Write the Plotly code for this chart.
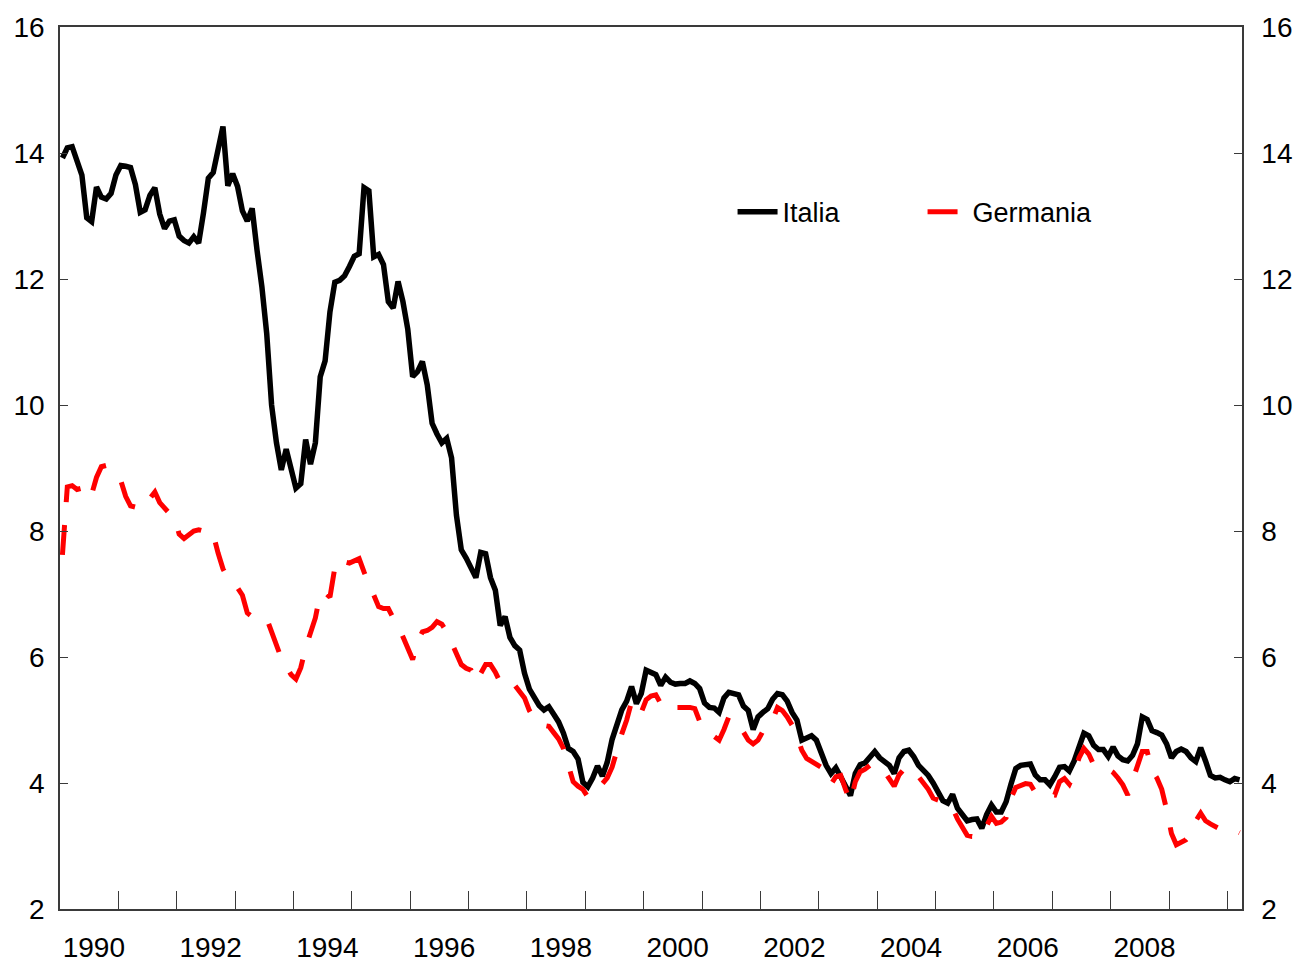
import pandas as pd
import plotly.graph_objects as go

# Monthly data, Jan 1990 - Mar 2010 (long-term government bond yields, %)
months = pd.period_range("1990-01", "2010-03", freq="M")

italia = [
    13.92, 14.08, 14.10, 13.87, 13.65, 12.97, 12.91, 13.46, 13.30, 13.27, 13.36, 13.65,
    13.80, 13.79, 13.77, 13.50, 13.06, 13.10, 13.33, 13.45, 13.03, 12.80, 12.92, 12.94,
    12.68, 12.61, 12.57, 12.67, 12.57, 13.05, 13.60, 13.69, 14.08, 14.42, 13.48, 13.67,
    13.47, 13.08, 12.92, 13.12, 12.46, 11.88, 11.13, 10.00, 9.40, 8.97, 9.30, 8.95,
    8.68, 8.75, 9.45, 9.06, 9.40, 10.45, 10.70, 11.48, 11.95, 11.98, 12.05, 12.20,
    12.36, 12.40, 13.45, 13.40, 12.35, 12.39, 12.23, 11.64, 11.54, 11.96, 11.64, 11.20,
    10.45, 10.53, 10.69, 10.32, 9.71, 9.54, 9.40, 9.47, 9.16, 8.25, 7.70, 7.57,
    7.40, 7.26, 7.66, 7.64, 7.26, 7.06, 6.50, 6.64, 6.31, 6.18, 6.11, 5.74,
    5.49, 5.36, 5.23, 5.16, 5.21, 5.09, 4.97, 4.79, 4.55, 4.50, 4.38, 4.01,
    3.94, 4.08, 4.27, 4.11, 4.33, 4.69, 4.96, 5.16, 5.30, 5.53, 5.26, 5.42,
    5.79, 5.76, 5.72, 5.55, 5.68, 5.60, 5.57, 5.58, 5.58, 5.62, 5.58, 5.50,
    5.27, 5.20, 5.19, 5.12, 5.35, 5.44, 5.42, 5.40, 5.22, 5.15, 4.85, 5.05,
    5.12, 5.18, 5.33, 5.42, 5.40, 5.30, 5.12, 5.00, 4.68, 4.72, 4.75, 4.68,
    4.45, 4.28, 4.15, 4.24, 4.10, 3.95, 3.80, 4.15, 4.29, 4.32, 4.40, 4.50,
    4.40, 4.35, 4.28, 4.15, 4.40, 4.50, 4.52, 4.42, 4.28, 4.20, 4.12, 4.00,
    3.88, 3.72, 3.68, 3.82, 3.60, 3.48, 3.40, 3.42, 3.43, 3.28, 3.50, 3.65,
    3.54, 3.54, 3.70, 3.98, 4.23, 4.28, 4.30, 4.30, 4.13, 4.05, 4.05, 3.97,
    4.10, 4.25, 4.26, 4.19, 4.35, 4.55, 4.79, 4.75, 4.60, 4.53, 4.53, 4.42,
    4.57, 4.43, 4.37, 4.35, 4.44, 4.62, 5.05, 5.01, 4.83, 4.80, 4.76, 4.62,
    4.40, 4.50, 4.54, 4.50, 4.40, 4.34, 4.56, 4.35, 4.12, 4.08, 4.09, 4.05,
    4.02, 4.07, 4.05,
]

germania = [
    7.62, 8.70, 8.72, 8.66, 8.68, 8.74, 8.58, 8.85, 9.02, 9.04, 8.96, 8.87,
    8.80, 8.55, 8.40, 8.38, 8.36, 8.36, 8.52, 8.62, 8.45, 8.35, 8.28, 8.22,
    7.95, 7.88, 7.95, 8.00, 8.02, 8.00, 8.03, 7.95, 7.65, 7.40, 7.25, 7.15,
    7.10, 6.98, 6.70, 6.64, 6.62, 6.63, 6.61, 6.40, 6.18, 5.98, 5.85, 5.72,
    5.65, 5.83, 6.15, 6.40, 6.62, 7.01, 7.02, 6.95, 7.42, 7.57, 7.51, 7.49,
    7.52, 7.56, 7.35, 7.15, 7.00, 6.80, 6.77, 6.77, 6.62, 6.50, 6.32, 6.12,
    5.96, 6.25, 6.40, 6.42, 6.47, 6.56, 6.52, 6.40, 6.22, 6.05, 5.88, 5.82,
    5.79, 5.60, 5.75, 5.88, 5.88, 5.76, 5.60, 5.62, 5.64, 5.55, 5.45, 5.35,
    5.15, 5.02, 4.93, 4.92, 4.90, 4.80, 4.70, 4.55, 4.25, 4.02, 3.95, 3.90,
    3.78, 3.80, 3.90, 3.99, 4.08, 4.25, 4.54, 4.78, 5.00, 5.29, 5.12, 5.12,
    5.32, 5.38, 5.40, 5.26, 5.31, 5.22, 5.20, 5.20, 5.20, 5.20, 5.18, 4.98,
    4.85, 4.79, 4.72, 4.68, 4.85, 5.05, 5.00, 4.95, 4.81, 4.68, 4.62, 4.68,
    4.82, 4.90, 5.00, 5.20, 5.15, 5.05, 4.92, 4.75, 4.52, 4.39, 4.35, 4.30,
    4.25, 4.10, 3.98, 4.10, 4.12, 3.90, 3.70, 4.02, 4.18, 4.22, 4.28, 4.30,
    4.27, 4.18, 4.05, 3.95, 4.13, 4.22, 4.25, 4.22, 4.10, 4.00, 3.90, 3.76,
    3.72, 3.70, 3.68, 3.60, 3.43, 3.30, 3.17, 3.15, 3.15, 3.15, 3.32, 3.47,
    3.36, 3.38, 3.45, 3.76, 3.93, 3.96, 3.99, 3.98, 3.85, 3.80, 3.80, 3.82,
    3.81, 4.02, 4.07, 3.98, 4.15, 4.40, 4.55, 4.46, 4.29, 4.26, 4.26, 4.22,
    4.17, 4.08, 3.97, 3.81, 4.03, 4.30, 4.50, 4.50, 4.20, 4.08, 3.90, 3.58,
    3.20, 3.02, 3.05, 3.10, 3.18, 3.40, 3.52, 3.40, 3.35, 3.30, 3.27, 3.24,
    3.23, 3.25, 3.21,
]

label_years = [1990, 1992, 1994, 1996, 1998, 2000, 2002, 2004, 2006, 2008]
tick_years = list(range(1991, 2011))
y_ticks = [2, 4, 6, 8, 10, 12, 14, 16]

# category centres on a continuous year axis
x = [p.year + (p.month - 0.5) / 12 for p in months]

FONT = "Liberation Sans, Arial, sans-serif"
AXCOL = "#3a3a3a"

fig = go.Figure()
fig.add_trace(go.Scatter(
    x=x, y=italia, name="Italia", mode="lines",
    line=dict(color="#000000", width=5.5),
))
fig.add_trace(go.Scatter(
    x=x, y=germania, name="Germania", mode="lines",
    line=dict(color="#FF0000", width=5, dash="30px,23px"),
))
# empty trace to bring the right-hand axis into existence
fig.add_trace(go.Scatter(x=[], y=[], yaxis="y2", showlegend=False, hoverinfo="skip"))

fig.update_layout(
    width=1301, height=966,
    margin=dict(l=60, r=59, t=27, b=57, autoexpand=False),
    paper_bgcolor="white", plot_bgcolor="white",
    font=dict(family=FONT, size=28, color="#000000"),
    showlegend=True,
    legend=dict(
        orientation="h", x=0.569, y=0.79, xanchor="left", yanchor="middle",
        bgcolor="rgba(0,0,0,0)", font=dict(size=27),
        entrywidthmode="pixels", entrywidth=135, itemwidth=40,
    ),
    xaxis=dict(
        range=[1990, 2010.25], showgrid=False, zeroline=False, automargin=False,
        showline=True, linecolor=AXCOL, linewidth=1.5, mirror=True,
        tickmode="array",
        tickvals=[yr + 0.58 for yr in label_years],
        ticktext=[str(yr) for yr in label_years],
        ticks="", ticklabelstandoff=13,
        minor=dict(tickmode="array", tickvals=tick_years, ticks="inside",
                   ticklen=18, tickwidth=1, tickcolor=AXCOL),
    ),
    yaxis=dict(
        range=[2, 16], tickmode="array", tickvals=y_ticks, automargin=False,
        showgrid=False, zeroline=False, showline=True, linecolor=AXCOL, linewidth=1.5,
        ticks="inside", ticklen=8, tickwidth=1, tickcolor=AXCOL,
        ticklabelstandoff=8,
    ),
    yaxis2=dict(
        range=[2, 16], tickmode="array", tickvals=y_ticks, overlaying="y", side="right",
        anchor="x", automargin=False,
        showgrid=False, zeroline=False, showline=True, linecolor=AXCOL, linewidth=1.5,
        ticks="inside", ticklen=8, tickwidth=1, tickcolor=AXCOL,
        ticklabelstandoff=12,
    ),
)

fig.write_html("out.html", config={"displayModeBar": False},
               post_script="document.body.style.margin='0';")
